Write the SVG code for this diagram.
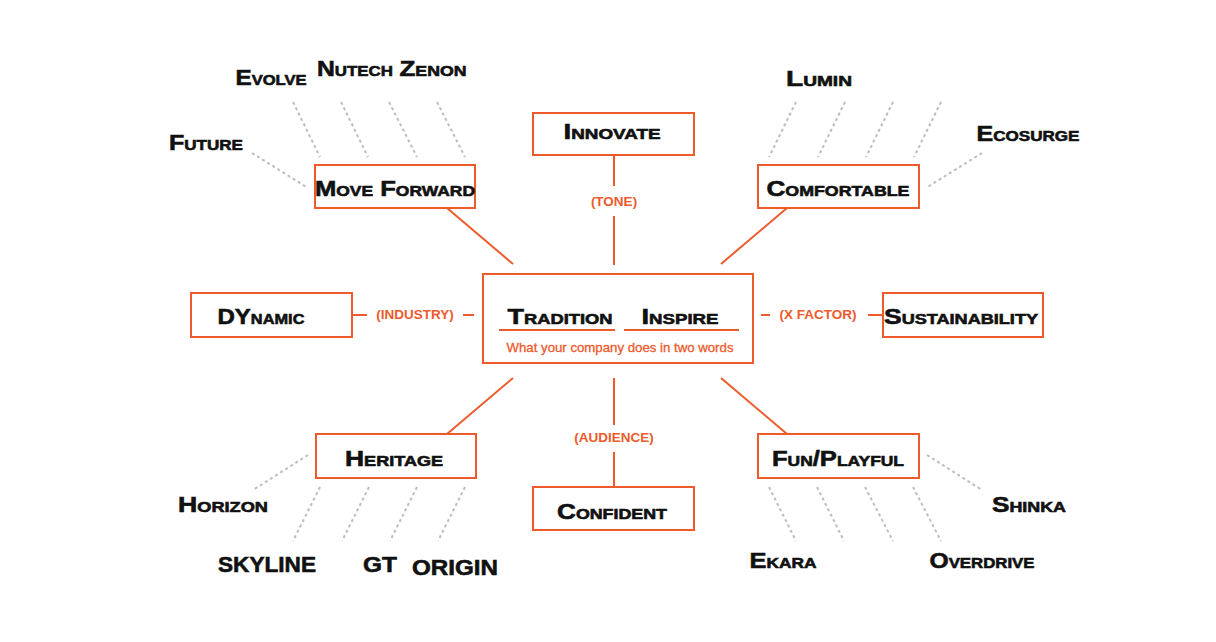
<svg xmlns="http://www.w3.org/2000/svg" width="1216" height="642" viewBox="0 0 1216 642">
<style>
.box{fill:#fff;stroke:#EE5A2C;stroke-width:2}
.ln{stroke:#EE5A2C;stroke-width:2;fill:none}
.dot{stroke:#BDBDBD;stroke-width:2;stroke-dasharray:3 3;fill:none}
.hw{font-family:"Liberation Sans",Arial,sans-serif;font-weight:bold;font-variant:small-caps;font-size:22px;fill:#111;stroke:#111;stroke-width:0.6;text-anchor:middle}
.lb{font-family:"Liberation Sans",Arial,sans-serif;font-weight:bold;font-size:13.5px;fill:#EE5A2C;text-anchor:middle}
.sub{font-family:"Liberation Sans",Arial,sans-serif;font-size:13px;fill:#EE5A2C;stroke:#EE5A2C;stroke-width:0.3;text-anchor:middle}
</style>
<rect width="1216" height="642" fill="#fff"/>
<g id="connectors">
<line class="ln" x1="614" y1="155" x2="614" y2="186"/>
<line class="ln" x1="614" y1="216" x2="614" y2="265"/>
<line class="ln" x1="614" y1="378" x2="614" y2="425"/>
<line class="ln" x1="614" y1="452" x2="614" y2="487"/>
<line class="ln" x1="352" y1="315" x2="367" y2="315"/>
<line class="ln" x1="463" y1="315" x2="474" y2="315"/>
<line class="ln" x1="761" y1="315" x2="770" y2="315"/>
<line class="ln" x1="868" y1="315" x2="883" y2="315"/>
<line class="ln" x1="447" y1="208" x2="513" y2="264"/>
<line class="ln" x1="787" y1="208" x2="721" y2="264"/>
<line class="ln" x1="447" y1="434" x2="513" y2="378"/>
<line class="ln" x1="787" y1="434" x2="721" y2="378"/>
<line class="dot" x1="293" y1="102" x2="320" y2="157"/>
<line class="dot" x1="341" y1="102" x2="368" y2="157"/>
<line class="dot" x1="389" y1="102" x2="417" y2="157"/>
<line class="dot" x1="437" y1="102" x2="465" y2="157"/>
<line class="dot" x1="252" y1="153" x2="308" y2="188"/>
<line class="dot" x1="796" y1="102" x2="769" y2="157"/>
<line class="dot" x1="845" y1="102" x2="818" y2="157"/>
<line class="dot" x1="893" y1="102" x2="866" y2="157"/>
<line class="dot" x1="941" y1="102" x2="914" y2="157"/>
<line class="dot" x1="982" y1="153" x2="926" y2="188"/>
<line class="dot" x1="320" y1="487" x2="293" y2="541"/>
<line class="dot" x1="369" y1="487" x2="342" y2="541"/>
<line class="dot" x1="417" y1="487" x2="390" y2="541"/>
<line class="dot" x1="465" y1="487" x2="438" y2="541"/>
<line class="dot" x1="308" y1="455" x2="253" y2="490"/>
<line class="dot" x1="769" y1="487" x2="796" y2="541"/>
<line class="dot" x1="817" y1="487" x2="844" y2="541"/>
<line class="dot" x1="865" y1="487" x2="893" y2="541"/>
<line class="dot" x1="913" y1="487" x2="941" y2="541"/>
<line class="dot" x1="927" y1="455" x2="982" y2="490"/>
<text class="lb" x="614" y="206">(TONE)</text>
<text class="lb" x="614" y="442">(AUDIENCE)</text>
<text class="lb" x="415" y="319">(INDUSTRY)</text>
<text class="lb" x="818" y="319">(X FACTOR)</text>
</g>
<g id="center">
<rect class="box" x="483" y="274" width="270" height="89"/>
<line class="ln" x1="499" y1="330" x2="615" y2="330"/>
<line class="ln" x1="624" y1="330" x2="739" y2="330"/>
<text class="hw" x="560" y="324" textLength="105" lengthAdjust="spacingAndGlyphs">Tradition</text>
<text class="hw" x="680" y="324" textLength="77" lengthAdjust="spacingAndGlyphs">Inspire</text>
<text class="sub" x="620" y="352" textLength="227" lengthAdjust="spacingAndGlyphs">What your company does in two words</text>
</g>
<g id="innovate">
<rect class="box" x="533" y="113" width="161" height="42"/>
<text class="hw" x="612" y="139" textLength="97" lengthAdjust="spacingAndGlyphs">Innovate</text>
</g>
<g id="confident">
<rect class="box" x="533" y="487" width="161" height="43"/>
<text class="hw" x="612" y="519" textLength="110" lengthAdjust="spacingAndGlyphs">Confident</text>
</g>
<g id="dynamic">
<rect class="box" x="191" y="293" width="161" height="44"/>
<text class="hw" x="261" y="324" textLength="87" lengthAdjust="spacingAndGlyphs">DYnamic</text>
</g>
<g id="sustainability">
<rect class="box" x="883" y="293" width="160" height="44"/>
<text class="hw" x="961" y="324" textLength="154" lengthAdjust="spacingAndGlyphs">Sustainability</text>
</g>
<g id="move-forward">
<rect class="box" x="315" y="165" width="160" height="43"/>
<text class="hw" x="395" y="196" textLength="160" lengthAdjust="spacingAndGlyphs">Move Forward</text>
</g>
<g id="comfortable">
<rect class="box" x="758" y="165" width="161" height="43"/>
<text class="hw" x="838" y="196" textLength="143" lengthAdjust="spacingAndGlyphs">Comfortable</text>
</g>
<g id="heritage">
<rect class="box" x="316" y="434" width="160" height="44"/>
<text class="hw" x="394" y="466" textLength="98" lengthAdjust="spacingAndGlyphs">Heritage</text>
</g>
<g id="fun-playful">
<rect class="box" x="758" y="434" width="161" height="44"/>
<text class="hw" x="838" y="466" textLength="132" lengthAdjust="spacingAndGlyphs">Fun/Playful</text>
</g>
<g id="words">
<text class="hw" x="271" y="85" textLength="71" lengthAdjust="spacingAndGlyphs">Evolve</text>
<text class="hw" x="355" y="76" textLength="76" lengthAdjust="spacingAndGlyphs">Nutech</text>
<text class="hw" x="433" y="76" textLength="67" lengthAdjust="spacingAndGlyphs">Zenon</text>
<text class="hw" x="206" y="150" textLength="74" lengthAdjust="spacingAndGlyphs">Future</text>
<text class="hw" x="819" y="86" textLength="66" lengthAdjust="spacingAndGlyphs">Lumin</text>
<text class="hw" x="1028" y="141" textLength="103" lengthAdjust="spacingAndGlyphs">Ecosurge</text>
<text class="hw" x="223" y="512" textLength="90" lengthAdjust="spacingAndGlyphs">Horizon</text>
<text class="hw" x="267" y="572" textLength="98" lengthAdjust="spacingAndGlyphs">SKYLINE</text>
<text class="hw" x="380" y="572" textLength="34" lengthAdjust="spacingAndGlyphs">GT</text>
<text class="hw" x="455" y="575" textLength="86" lengthAdjust="spacingAndGlyphs">ORIGIN</text>
<text class="hw" x="1029" y="512" textLength="74" lengthAdjust="spacingAndGlyphs">Shinka</text>
<text class="hw" x="783" y="568" textLength="67" lengthAdjust="spacingAndGlyphs">Ekara</text>
<text class="hw" x="982" y="568" textLength="105" lengthAdjust="spacingAndGlyphs">Overdrive</text>
</g>
</svg>
